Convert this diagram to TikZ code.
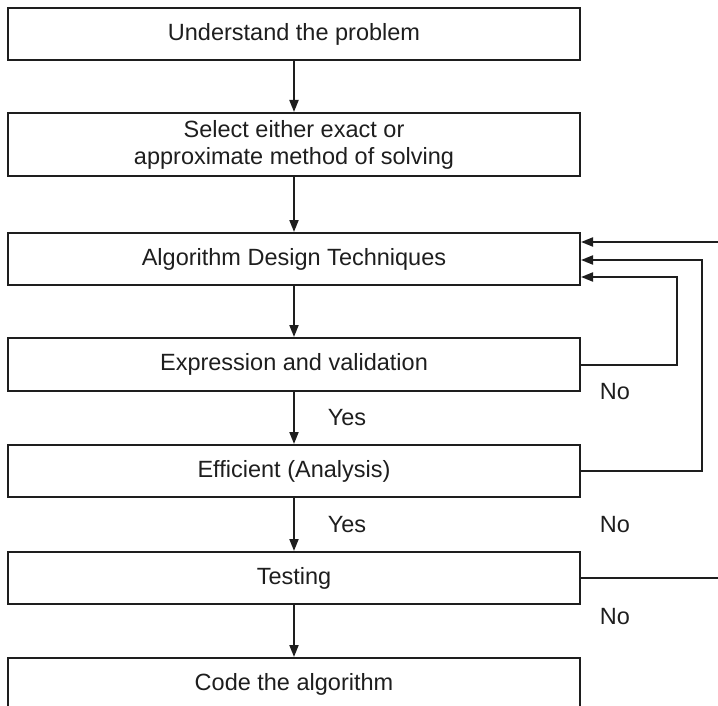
\documentclass[tikz,border=0pt]{standalone}
\usepackage{fontspec}
\setmainfont{Liberation Sans}
\usetikzlibrary{arrows.meta}
\definecolor{ink}{HTML}{1E1E1E}
\begin{document}
\begin{tikzpicture}[x=1pt,y=-1pt,
  stepbox/.style={draw=ink, line width=2pt, minimum width=572pt, inner sep=0pt,
    align=center, text=ink, font=\fontsize{23.5}{27}\selectfont},
  flow/.style={draw=ink, line width=2pt, -{Triangle[length=12pt,width=9pt]}},
  wire/.style={draw=ink, line width=2pt},
  tag/.style={text=ink, font=\fontsize{23.5}{27}\selectfont, inner sep=0pt}]
\useasboundingbox (0,0) rectangle (718,706);
\clip (0,0) rectangle (718,706);

% main column of steps
\node[stepbox, minimum height=52pt] (understand) at (294,34) {Understand the problem};
\node[stepbox, minimum height=63pt] (select) at (294,144.5) {Select either exact or\\approximate method of solving};
\node[stepbox, minimum height=52pt] (design) at (294,259) {Algorithm Design Techniques};
\node[stepbox, minimum height=53pt] (express) at (294,364.5) {Expression and validation};
\node[stepbox, minimum height=52pt] (efficient) at (294,471) {Efficient (Analysis)};
\node[stepbox, minimum height=52pt] (testing) at (294,578) {Testing};
\node[stepbox, minimum height=52pt] (code) at (294,684) {Code the algorithm};

% downward flow
\draw[flow] (understand) -- (select);
\draw[flow] (select) -- (design);
\draw[flow] (design) -- (express);
\draw[flow] (express) -- (efficient);
\draw[flow] (efficient) -- (testing);
\draw[flow] (testing) -- (code);

% feedback loops
\coordinate (loopA) at (677,277);
\coordinate (loopB) at (702,260);
\coordinate (inTop) at (718,242);
\coordinate (outTest) at (718,578);
\draw[flow] (express.east) -| (loopA) -- (design.east |- loopA);
\draw[flow] (efficient.east) -| (loopB) -- (design.east |- loopB);
\draw[flow] (inTop) -- (design.east |- inTop);
\draw[wire] (testing.east) -- (outTest);

% labels
\node[tag] (yes1) at (347,418) {Yes};
\node[tag] (yes2) at (347,525) {Yes};
\node[tag] (no1) at (615,392) {No};
\node[tag] (no2) at (615,525) {No};
\node[tag] (no3) at (615,617) {No};
\end{tikzpicture}
\end{document}
